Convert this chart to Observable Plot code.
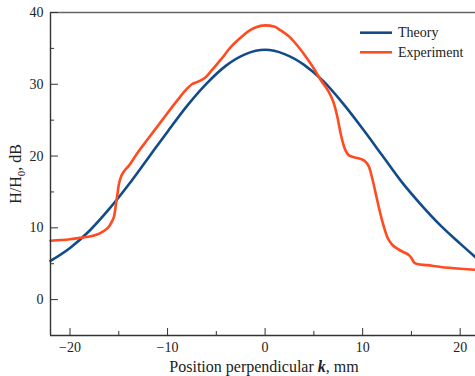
<!DOCTYPE html>
<html><head><meta charset="utf-8">
<script src="https://cdn.jsdelivr.net/npm/d3@7"></script>
<script src="https://cdn.jsdelivr.net/npm/@observablehq/plot@0.6"></script>
<style>
body{margin:0;background:#fff}
#wrap{width:475px;height:376px}
</style>
</head><body><div id="wrap"></div>
<script>
// Theory curve (position mm, H/H0 dB)
const theoryX = [-22, -20, -18, -16, -14, -12, -10, -8, -6, -4, -2, 0, 2, 4, 6, 8, 10, 12, 14, 16, 18, 20, 21.57];
const theoryY = [5.4, 7.2, 9.6, 12.6, 16.0, 19.7, 23.4, 27.0, 30.1, 32.6, 34.2, 34.8, 34.2, 32.7, 30.4, 27.3, 23.8, 20.1, 16.4, 13.2, 10.3, 7.8, 5.9];

// Experiment curve
const expX = [-22, -20, -19, -18, -17, -16.5, -16, -15.7, -15.45, -15.3, -15.15, -15.0, -14.8, -14.5, -14.0, -13, -12, -11, -10, -9, -8, -7.5, -7, -6.5, -6, -5.5, -4.5, -3.5, -2.5, -1.8, -1, 0, 1, 1.6, 2.5, 3.3, 4.2, 5.0, 5.7, 6.5, 7.06, 7.4, 7.75, 8.1, 8.6, 9.2, 9.8, 10.3, 10.65, 11.0, 11.5, 12.0, 12.53, 13.0, 13.55, 14.2, 14.74, 15.0, 15.25, 15.6, 16.6, 18, 20, 21.57];
const expY = [8.2, 8.4, 8.6, 8.8, 9.2, 9.6, 10.2, 10.9, 11.8, 13.2, 14.6, 16.0, 17.0, 17.8, 18.6, 20.6, 22.4, 24.2, 26.0, 27.75, 29.4, 30.0, 30.3, 30.6, 31.1, 31.9, 33.5, 35.2, 36.5, 37.3, 37.9, 38.2, 38.0, 37.5, 36.6, 35.4, 33.8, 32.2, 30.6, 29.0, 27.3, 25.5, 23.1, 21.3, 20.1, 19.8, 19.6, 19.2, 18.5, 16.8, 13.8, 11.0, 8.7, 7.7, 7.1, 6.6, 6.2, 5.8, 5.2, 4.95, 4.8, 4.55, 4.3, 4.15];

const xTicks = [-20, -10, 0, 10, 20];
const xMinor = [-15, -5, 5, 15];
const yTicks = [0, 10, 20, 30, 40];
const yMinor = [5, 15, 25, 35];
const xDomain = [-22, 21.57];
const yDomain = [-5, 40];
const seriesNames = ["Theory", "Experiment"];
const colors = ["#114b89", "#ff4b1f"];

const theory = theoryX.map((x, i) => ({x, y: theoryY[i]}));
const experiment = expX.map((x, i) => ({x, y: expY[i]}));
const ff = "'Liberation Serif', 'Times New Roman', serif";

const chart = Plot.plot({
  width: 475, height: 376,
  marginLeft: 50, marginRight: 0, marginTop: 12, marginBottom: 41,
  style: {fontFamily: ff, fontSize: "14px", color: "#222", background: "#fff", overflow: "visible"},
  x: {domain: xDomain},
  y: {domain: yDomain},
  marks: [
    Plot.line(theory, {x: "x", y: "y", stroke: colors[0], strokeWidth: 2.6, curve: "monotone-x"}),
    Plot.line(experiment, {x: "x", y: "y", stroke: colors[1], strokeWidth: 2.6, curve: "monotone-x"}),
    Plot.ruleX([xDomain[0]], {stroke: "#333", strokeWidth: 1.4}),
    Plot.ruleY([yDomain[0]], {stroke: "#333", strokeWidth: 1.4}),
    Plot.ruleY([yDomain[1]], {stroke: "#666", strokeWidth: 1.4}),
    Plot.axisX(xTicks, {tickSize: -7, tickPadding: 14, label: null, stroke: "#333", fontFamily: ff, fontSize: 14, fill: "#222"}),
    Plot.axisX(xMinor, {tickSize: -4, tickFormat: () => "", label: null, stroke: "#333"}),
    Plot.axisY(yTicks, {tickSize: -8, tickPadding: 15, label: null, stroke: "#333", fontFamily: ff, fontSize: 14, fill: "#222"}),
    Plot.axisY(yMinor, {tickSize: -4, tickFormat: () => "", label: null, stroke: "#333"})
  ]
});
document.getElementById("wrap").appendChild(chart);

const svg = d3.select(chart);
// x title
const xt = svg.append("text").attr("x", 264).attr("y", 372).attr("text-anchor", "middle")
  .attr("font-family", ff).attr("font-size", 16).attr("fill", "#222");
xt.append("tspan").text("Position perpendicular ");
xt.append("tspan").attr("font-weight", "bold").attr("font-style", "italic").text("k");
xt.append("tspan").text(", mm");
// y title
const yt = svg.append("text").attr("transform", "translate(20.5,174) rotate(-90)").attr("text-anchor", "middle")
  .attr("font-family", ff).attr("font-size", 16).attr("fill", "#222");
yt.append("tspan").text("H/H");
yt.append("tspan").attr("font-size", 11).attr("dy", 4).text("0");
yt.append("tspan").attr("dy", -4).text(", dB");
// legend
seriesNames.forEach((name, i) => {
  const cy = 32.7 + i * 19.6;
  svg.append("line").attr("x1", 360).attr("x2", 392).attr("y1", cy).attr("y2", cy)
    .attr("stroke", colors[i]).attr("stroke-width", 2.6);
  svg.append("text").attr("x", 398).attr("y", cy + 4.5).attr("text-anchor", "start").attr("font-family", ff)
    .attr("font-size", 14).attr("fill", "#222").text(name);
});
</script>
</body></html>
